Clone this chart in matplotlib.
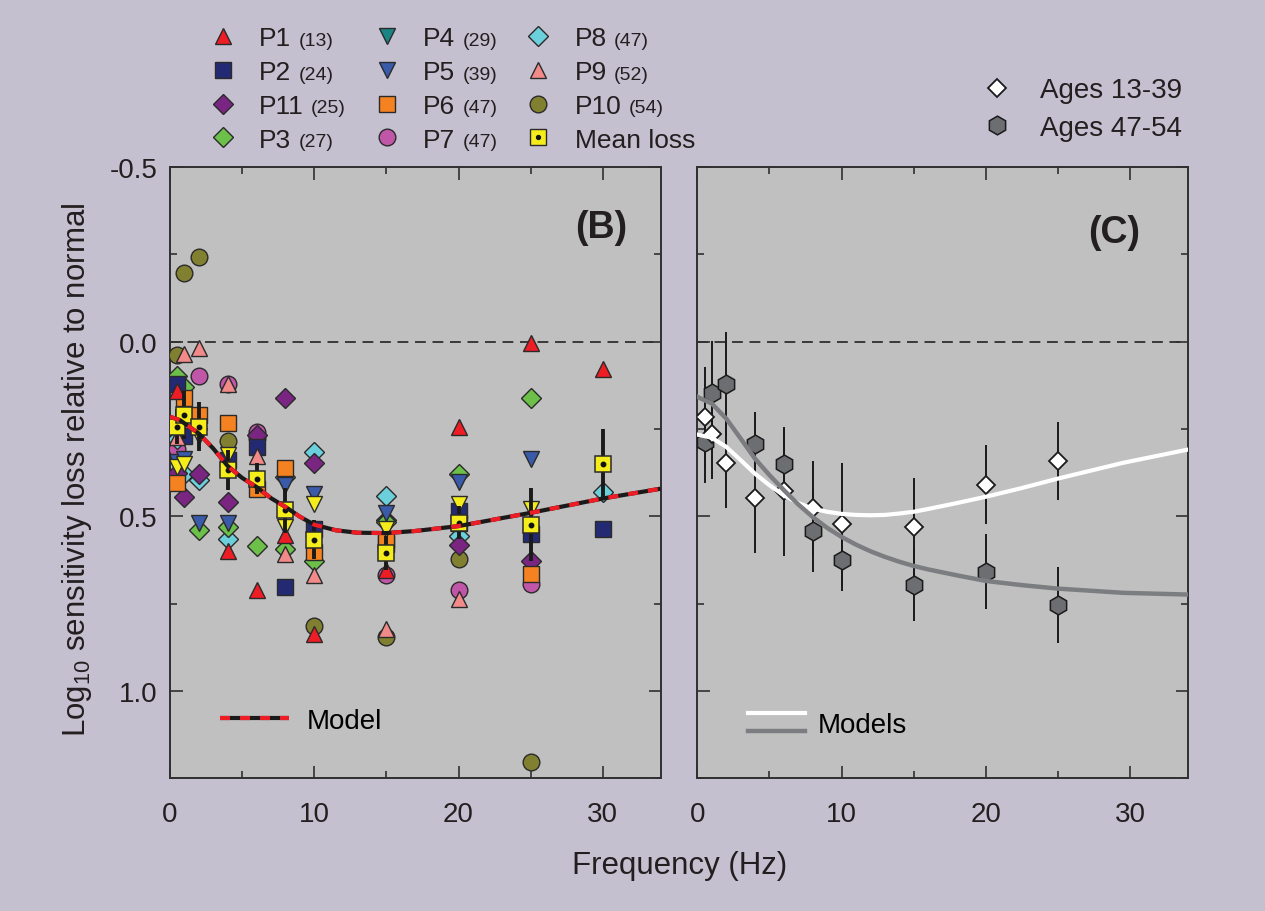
import numpy as np
import matplotlib
matplotlib.use("Agg")
import matplotlib.pyplot as plt
from matplotlib.lines import Line2D
from matplotlib.legend_handler import HandlerTuple, HandlerBase
from matplotlib.ticker import MultipleLocator, FormatStrFormatter

plt.rcParams['font.family'] = ['Liberation Sans', 'DejaVu Sans']
plt.rcParams['mathtext.fontset'] = 'custom'
plt.rcParams['mathtext.rm'] = 'Liberation Sans'
plt.rcParams['mathtext.it'] = 'Liberation Sans:italic'
plt.rcParams['axes.unicode_minus'] = False

nan = np.nan

# ---------------- Panel B data (log10 sensitivity loss) ----------------
freq_b = [0.5, 1, 2, 4, 6, 8, 10, 15, 20, 25, 30]
p1 = [0.14, nan, nan, 0.60, 0.712, 0.554, 0.836, 0.655, 0.244, 0.005, 0.078]
p2 = [0.12, 0.27, nan, 0.34, 0.301, 0.703, 0.535, 0.58, 0.486, 0.55, 0.535]
p11 = [0.375, 0.444, 0.38, 0.46, 0.266, 0.16, 0.346, 0.511, 0.583, 0.629, nan]
p3 = [0.099, 0.13, 0.54, 0.53, 0.585, 0.593, 0.629, 0.516, 0.378, 0.16, nan]
p4 = [0.36, 0.35, 0.27, 0.325, nan, 0.53, 0.464, 0.535, 0.464, 0.478, nan]
p5 = [0.344, 0.335, 0.52, 0.52, nan, 0.411, 0.437, 0.49, 0.401, 0.335, nan]
p6 = [0.406, 0.16, 0.21, 0.232, 0.421, 0.363, 0.602, 0.569, 0.52, 0.664, nan]
p7 = [0.306, nan, 0.098, 0.12, 0.258, nan, nan, 0.667, 0.712, 0.693, nan]
p8 = [0.28, 0.378, 0.397, 0.564, nan, 0.387, 0.315, 0.443, 0.556, nan, 0.43]
p9 = [0.272, 0.034, 0.019, 0.122, 0.327, 0.607, 0.669, 0.822, 0.738, nan, nan]
p10 = [0.038, -0.196, -0.241, 0.285, 0.275, nan, 0.814, 0.846, 0.623, 1.202, nan]
mean_loss = [0.244, 0.21, 0.244, 0.368, 0.392, 0.483, 0.567, 0.605, 0.518, 0.524, 0.351]
mean_err = [0.05, 0.07, 0.07, 0.057, 0.045, 0.065, 0.056, 0.05, 0.048, 0.105, 0.1]

model_b_freq = [0, 0.7, 2, 3, 4, 5, 6, 7, 8, 9, 10, 11.5, 13, 15, 17, 20, 25, 30, 34]
model_b_loss = [0.215, 0.225, 0.263, 0.306, 0.356, 0.39, 0.416, 0.448, 0.473, 0.501,
                0.524, 0.54, 0.547, 0.548, 0.542, 0.528, 0.49, 0.449, 0.421]

participant_names = ['P1', 'P2', 'P11', 'P3', 'P4', 'P5', 'P6', 'P7', 'P8', 'P9', 'P10']
participant_ages = [13, 24, 25, 27, 29, 39, 47, 47, 47, 52, 54]

# ---------------- Panel C data ----------------
freq_c = [0.5, 1, 2, 4, 6, 8, 10, 15, 20, 25]
young_loss = [0.217, 0.263, 0.346, 0.449, 0.428, 0.476, 0.523, 0.532, 0.409, 0.341]
young_err = [0.145, 0.131, 0.129, 0.155, 0.185, 0.135, 0.177, 0.142, 0.113, 0.112]
older_loss = [0.287, 0.148, 0.122, 0.292, 0.349, 0.542, 0.624, 0.696, 0.658, 0.755]
older_err = [0.118, 0.149, 0.149, 0.091, 0.105, 0.118, 0.09, 0.104, 0.108, 0.109]

model_c_freq = [0, 1, 2, 3, 4, 5, 6, 7, 8, 9, 10, 11, 12, 13, 14, 15, 16, 18, 20, 22.5,
                25, 29.5, 34]
model_young = [0.266, 0.275, 0.301, 0.339, 0.378, 0.411, 0.44, 0.462, 0.478, 0.487,
               0.493, 0.496, 0.497, 0.496, 0.492, 0.487, 0.479, 0.462, 0.444, 0.419,
               0.392, 0.347, 0.309]
model_older = [0.158, 0.177, 0.22, 0.277, 0.335, 0.382, 0.425, 0.466, 0.502, 0.533,
               0.559, 0.581, 0.6, 0.616, 0.63, 0.642, 0.652, 0.669, 0.685, 0.697,
               0.707, 0.719, 0.724]

# ---------------- styles ----------------
BG = '#C5C0D0'
AXBG = '#C0C0C0'
EDGE = '#2a2a2a'
TXT = '#231F20'
styles = {
    'P1': dict(marker='^', color='#EE1C25', ms=12),
    'P2': dict(marker='s', color='#232A73', ms=11),
    'P11': dict(marker='D', color='#7B2583', ms=10),
    'P3': dict(marker='D', color='#6CC04A', ms=10),
    'P4': dict(marker='v', color='#F5EC1C', ms=12),
    'P5': dict(marker='v', color='#3A5BAA', ms=12),
    'P6': dict(marker='s', color='#F58220', ms=11),
    'P7': dict(marker='o', color='#C056A8', ms=12),
    'P8': dict(marker='D', color='#6CCFDC', ms=10),
    'P9': dict(marker='^', color='#F28A8A', ms=12),
    'P10': dict(marker='o', color='#808030', ms=12),
}
legend_colors = dict((k, v['color']) for k, v in styles.items())
legend_colors['P4'] = '#1A8484'
data_by_name = dict(P1=p1, P2=p2, P11=p11, P3=p3, P4=p4, P5=p5, P6=p6, P7=p7,
                    P8=p8, P9=p9, P10=p10)
draw_order = ['P10', 'P7', 'P8', 'P11', 'P3', 'P2', 'P6', 'P5', 'P4', 'P9', 'P1']

W, H = 1265, 912
fig = plt.figure(figsize=(W / 100, H / 100), dpi=100, facecolor=BG)
ax_l, ax_b, ax_w, ax_h = 170 / W, (H - 779.3) / H, 490.5 / W, 611.3 / H
axB = fig.add_axes([ax_l, ax_b, ax_w, ax_h])
axC = fig.add_axes([697.3 / W, ax_b, ax_w, ax_h])

for ax in (axB, axC):
    ax.set_facecolor(AXBG)
    ax.set_xlim(0, 34)
    ax.set_ylim(1.25, -0.5)
    ax.xaxis.set_major_locator(MultipleLocator(10))
    ax.xaxis.set_minor_locator(MultipleLocator(5))
    ax.yaxis.set_major_locator(MultipleLocator(0.5))
    ax.yaxis.set_minor_locator(MultipleLocator(0.25))
    ax.yaxis.set_major_formatter(FormatStrFormatter('%.1f'))
    ax.tick_params(which='both', direction='in', top=True, right=True,
                   color='#303030', width=1.2, labelsize=20, labelcolor=TXT)
    ax.tick_params(which='major', length=9)
    ax.tick_params(which='minor', length=5)
    ax.tick_params(axis='x', pad=16)
    ax.tick_params(axis='y', pad=9)
    for s in ax.spines.values():
        s.set_color('#303030')
        s.set_linewidth(1.4)
    ax.axhline(0, color='#222222', lw=1.2, linestyle=(0, (6.5, 4)), zorder=1)

axC.tick_params(labelleft=False)

# ---- Panel B
for i, name in enumerate(draw_order):
    st = styles[name]
    axB.plot(freq_b, data_by_name[name], linestyle='none', marker=st['marker'],
             ms=st['ms'], mfc=st['color'], mec=EDGE, mew=1.0, zorder=3 + i * 0.01)
axB.errorbar(freq_b, mean_loss, yerr=mean_err, fmt='none', ecolor='#1a1a1a',
             elinewidth=2.8, capsize=0, zorder=5)
axB.plot(freq_b, mean_loss, linestyle='none', marker='s', ms=12, mfc='#F5EC1C',
         mec=EDGE, mew=1.1, zorder=6)
axB.plot(freq_b, mean_loss, linestyle='none', marker='o', ms=3.2, mfc='#111111',
         mec='#111111', zorder=7)
mb_black, = axB.plot(model_b_freq, model_b_loss, color='#1a1a1a', lw=3.0, zorder=8,
                     solid_capstyle='butt')
mb_red, = axB.plot(model_b_freq, model_b_loss, color='#EE1C25', lw=3.0,
                   linestyle=(0, (2.4, 2.4)), zorder=9)
axB.text(0.932, 0.902, '(B)', transform=axB.transAxes, ha='right', va='center',
         fontsize=27, fontweight='bold', color=TXT)
axB.legend([(mb_black, mb_red)], ['Model'], handler_map={tuple: HandlerTuple(ndivide=1)},
           loc='center left', bbox_to_anchor=(0.102, 0.094), frameon=False, fontsize=20,
           handlelength=2.48, handletextpad=0.65, borderpad=0, borderaxespad=0)
axB.set_ylabel(r'Log$_{10}$ sensitivity loss relative to normal', fontsize=22.5,
               color=TXT)
axB.yaxis.set_label_coords((94 - 170) / 490.5, 0.506)

# ---- Panel C
axC.errorbar(freq_c, older_loss, yerr=older_err, fmt='none', ecolor='#1a1a1a',
             elinewidth=1.4, capsize=0, zorder=3)
axC.errorbar(freq_c, young_loss, yerr=young_err, fmt='none', ecolor='#1a1a1a',
             elinewidth=1.4, capsize=0, zorder=3)
axC.plot(freq_c, older_loss, linestyle='none', marker='h', ms=13.5, mfc='#6D6E71',
         mec='#1a1a1a', mew=1.1, zorder=4)
axC.plot(freq_c, young_loss, linestyle='none', marker='D', ms=9.5, mfc='white',
         mec='#1a1a1a', mew=1.3, zorder=5)
my_line, = axC.plot(model_c_freq, model_young, color='white', lw=3.0, zorder=6)
mo_line, = axC.plot(model_c_freq, model_older, color='#7C7D80', lw=3.2, zorder=6)
axC.text(0.903, 0.894, '(C)', transform=axC.transAxes, ha='right', va='center',
         fontsize=27, fontweight='bold', color=TXT)


class LinePair:
    def __init__(self, lines, gap):
        self.lines = lines
        self.gap = gap


class StackedLines(HandlerBase):
    def create_artists(self, legend, orig_handle, xdescent, ydescent, width, height,
                       fontsize, trans):
        arts = []
        n = len(orig_handle.lines)
        ymid = height / 2 - ydescent
        for i, ln in enumerate(orig_handle.lines):
            y = ymid + orig_handle.gap * ((n - 1) / 2 - i)
            a = Line2D([-xdescent, width - xdescent], [y, y], color=ln.get_color(),
                       lw=ln.get_linewidth())
            a.set_transform(trans)
            arts.append(a)
        return arts


axC.legend([LinePair([my_line, mo_line], 13)], ['Models'],
           handler_map={LinePair: StackedLines()}, loc='center left',
           bbox_to_anchor=(0.103, 0.088), frameon=False, fontsize=20,
           handlelength=2.05, handletextpad=0.47, borderpad=0, borderaxespad=0)

# ---- Participant legend (figure level)
leg_order = ['P1', 'P2', 'P11', 'P3', 'P4', 'P5', 'P6', 'P7', 'P8', 'P9', 'P10']
handles, labels = [], []
for name in leg_order:
    st = styles[name]
    handles.append(Line2D([], [], linestyle='none', marker=st['marker'], ms=st['ms'],
                          mfc=legend_colors[name], mec=EDGE, mew=1.0))
    labels.append(name)
mean_h = (Line2D([], [], linestyle='none', marker='s', ms=11, mfc='#F5EC1C', mec=EDGE, mew=1.0),
          Line2D([], [], linestyle='none', marker='o', ms=2.8, mfc='#111111', mec='#111111'))
handles.append(mean_h)
labels.append('Mean loss')
leg = fig.legend(handles, labels, ncol=3, loc='center left',
                 bbox_to_anchor=(209.5 / W, (H - 90) / H), frameon=False, fontsize=19,
                 handlelength=1.0, handletextpad=0.886, labelspacing=0.37,
                 columnspacing=2.63, borderpad=0, borderaxespad=0,
                 handler_map={tuple: HandlerTuple(ndivide=1)})
for t in leg.get_texts():
    t.set_color(TXT)

age_handles = [Line2D([], [], linestyle='none', marker='D', ms=9.5, mfc='white', mec='#1a1a1a', mew=1.3),
               Line2D([], [], linestyle='none', marker='h', ms=13.5, mfc='#6D6E71', mec='#1a1a1a', mew=1.1)]
leg2 = fig.legend(age_handles, ['Ages 13-39', 'Ages 47-54'], loc='center left',
                  bbox_to_anchor=(983.1 / W, (H - 110) / H), frameon=False, fontsize=20,
                  handlelength=1.0, handletextpad=1.05, labelspacing=0.4, borderpad=0,
                  borderaxespad=0)
for t in leg2.get_texts():
    t.set_color(TXT)

fig.text(680 / W, (H - 866) / H, 'Frequency (Hz)', ha='center', va='center', fontsize=22.5,
         color=TXT)

# ages in smaller type after the participant names
fig.canvas.draw()
renderer = fig.canvas.get_renderer()
for t, age in zip(leg.get_texts()[:len(participant_ages)], participant_ages):
    bb = t.get_window_extent(renderer)
    fig.text((bb.x1 + 7) / W, (bb.y0 + 5.5) / H, f'({age})', fontsize=14,
             va='baseline', ha='left', color=TXT)

fig.savefig('out.png', dpi=100, facecolor=BG)
